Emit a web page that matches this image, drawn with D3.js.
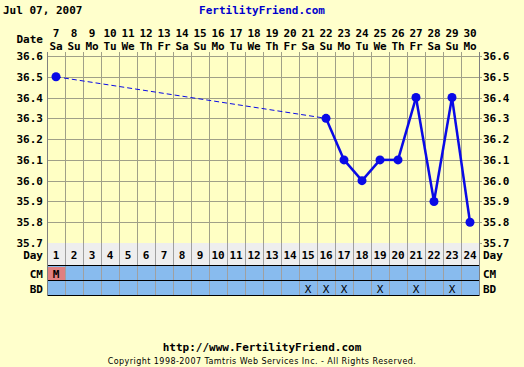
<!DOCTYPE html>
<html><head><meta charset="utf-8">
<script src="https://cdn.jsdelivr.net/npm/d3@7"></script>
<style>body{margin:0;background:#FFFFCC;} svg{display:block;}</style>
</head><body>
<script>
const days = d3.range(1, 25);
const dates = [7,8,9,10,11,12,13,14,15,16,17,18,19,20,21,22,23,24,25,26,27,28,29,30];
const weekdays = ["Sa","Su","Mo","Tu","We","Th","Fr","Sa","Su","Mo","Tu","We","Th","Fr","Sa","Su","Mo","Tu","We","Th","Fr","Sa","Su","Mo"];
const temps = [36.5,null,null,null,null,null,null,null,null,null,null,null,null,null,null,36.3,36.1,36.0,36.1,36.1,36.4,35.9,36.4,35.8];
const cm = ["M"].concat(Array(23).fill(""));
const bdDays = [15,16,17,19,21,23];
const yTicks = [36.6,36.5,36.4,36.3,36.2,36.1,36.0,35.9,35.8,35.7];

const W = 524, H = 367;
const L = 47, R = 479, T = 56, B = 243;
const svg = d3.select("body").append("svg").attr("width", W).attr("height", H);
svg.append("rect").attr("width", W).attr("height", H).attr("fill", "#FFFFCC");

const x = d3.scaleBand().domain(days).range([L, R]);
const y = d3.scaleLinear().domain([35.7, 36.6]).range([B, T]);
const mono = "'DejaVu Sans Mono', monospace";

// header
svg.append("text").attr("x", 3).attr("y", 14).attr("font-family", mono).attr("font-weight", "bold")
  .attr("font-size", 11).attr("fill", "#000").text("Jul 07, 2007");
svg.append("text").attr("x", 262).attr("y", 14).attr("text-anchor", "middle").attr("font-family", mono)
  .attr("font-weight", "bold").attr("font-size", 11).attr("fill", "#0000CC").text("FertilityFriend.com");

// plot bg
svg.append("rect").attr("x", L).attr("y", T).attr("width", R - L).attr("height", B - T).attr("fill", "#FFFFC4");

// grid
const g = svg.append("g").attr("stroke", "#A0A088").attr("stroke-width", 1);
yTicks.forEach(t => {
  g.append("line").attr("x1", L).attr("x2", R + 3).attr("y1", Math.round(y(t)) + 0.5).attr("y2", Math.round(y(t)) + 0.5);
});
d3.range(0, 25).forEach(i => {
  const xx = L + i * x.bandwidth();
  g.append("line").attr("x1", Math.round(xx) + 0.5).attr("x2", Math.round(xx) + 0.5).attr("y1", T - 4).attr("y2", B);
});

// y labels
const yl = svg.append("g").attr("font-family", mono).attr("font-weight", "bold").attr("font-size", 11).attr("fill", "#000");
yTicks.forEach(t => {
  yl.append("text").attr("x", 43).attr("y", y(t) + 4).attr("text-anchor", "end").text(t.toFixed(1));
  yl.append("text").attr("x", 483).attr("y", y(t) + 4).text(t.toFixed(1));
});

// date header
yl.append("text").attr("x", 43).attr("y", 43).attr("text-anchor", "end").text("Date");
days.forEach((d, i) => {
  const cx = x(d) + x.bandwidth() / 2;
  yl.append("text").attr("x", cx).attr("y", 37).attr("text-anchor", "middle").text(dates[i]);
  yl.append("text").attr("x", cx).attr("y", 50).attr("text-anchor", "middle").text(weekdays[i]);
});

// rows
const rowDayT = 243, rowCmT = 266, rowBdT = 281, rowBdB = 296;
svg.append("rect").attr("x", L).attr("y", rowDayT).attr("width", R - L).attr("height", rowCmT - rowDayT).attr("fill", "#EEEEEE");
svg.append("rect").attr("x", L).attr("y", rowCmT).attr("width", R - L).attr("height", rowBdB - rowCmT).attr("fill", "#88BBEE");
days.forEach((d, i) => {
  if (cm[i]) {
    svg.append("rect").attr("x", x(d) + 1).attr("y", rowCmT + 1).attr("width", x.bandwidth() - 1).attr("height", rowBdT - rowCmT - 1).attr("fill", "#E08080");
  }
});
const rg = svg.append("g").attr("stroke", "#A0A0A0");
d3.range(0, 25).forEach(i => {
  const xx = Math.round(L + i * x.bandwidth()) + 0.5;
  rg.append("line").attr("x1", xx).attr("x2", xx).attr("y1", rowDayT).attr("y2", rowBdB);
});
const bl = svg.append("g").attr("stroke", "#000");
[rowCmT, rowBdT, rowBdB].forEach(yy => bl.append("line").attr("x1", L).attr("x2", R).attr("y1", yy - 0.5).attr("y2", yy - 0.5));
svg.append("line").attr("x1", L + 0.5).attr("x2", L + 0.5).attr("y1", T - 4).attr("y2", rowBdB).attr("stroke", "#808080");
svg.append("line").attr("x1", R + 0.5).attr("x2", R + 0.5).attr("y1", T - 4).attr("y2", rowBdB).attr("stroke", "#808080");

const rt = svg.append("g").attr("font-family", mono).attr("font-weight", "bold").attr("font-size", 11).attr("fill", "#000");
days.forEach(d => {
  rt.append("text").attr("x", x(d) + x.bandwidth() / 2).attr("y", 259).attr("text-anchor", "middle").text(d);
});
rt.append("text").attr("x", 43).attr("y", 259).attr("text-anchor", "end").text("Day");
rt.append("text").attr("x", 483).attr("y", 259).text("Day");
rt.append("text").attr("x", 43).attr("y", 278).attr("text-anchor", "end").text("CM");
rt.append("text").attr("x", 483).attr("y", 278).text("CM");
rt.append("text").attr("x", 43).attr("y", 293).attr("text-anchor", "end").text("BD");
rt.append("text").attr("x", 483).attr("y", 293).text("BD");
days.forEach((d, i) => {
  if (cm[i]) rt.append("text").attr("x", x(d) + x.bandwidth() / 2).attr("y", 278).attr("text-anchor", "middle").attr("fill", "#000").text(cm[i]);
});
bdDays.forEach(d => {
  rt.append("text").attr("x", x(d) + x.bandwidth() / 2).attr("y", 293).attr("text-anchor", "middle").attr("font-weight", "normal").text("X");
});

// temperature line
const pts = days.map((d, i) => ({d, t: temps[i]})).filter(p => p.t !== null);
const px = p => x(p.d) + x.bandwidth() / 2;
const blue = "#0A0AE6";
for (let i = 1; i < pts.length; i++) {
  const a = pts[i - 1], b = pts[i];
  const gap = b.d - a.d > 1;
  svg.append("line").attr("x1", px(a)).attr("y1", y(a.t)).attr("x2", px(b)).attr("y2", y(b.t))
    .attr("stroke", blue).attr("stroke-width", gap ? 1 : 2.5)
    .attr("stroke-dasharray", gap ? "5,3" : null);
}
svg.append("g").selectAll("circle").data(pts).join("circle")
  .attr("cx", px).attr("cy", p => y(p.t)).attr("r", 4.5).attr("fill", blue);

// footer
svg.append("text").attr("x", 262).attr("y", 351).attr("text-anchor", "middle").attr("font-family", mono)
  .attr("font-weight", "bold").attr("font-size", 11).attr("fill", "#000").text("http://www.FertilityFriend.com");
svg.append("text").attr("x", 262).attr("y", 364).attr("text-anchor", "middle").attr("font-family", "'DejaVu Sans', sans-serif")
  .attr("font-size", 8).attr("letter-spacing", 0.45).attr("fill", "#000").text("Copyright 1998-2007 Tamtris Web Services Inc. - All Rights Reserved.");
</script>
</body></html>
